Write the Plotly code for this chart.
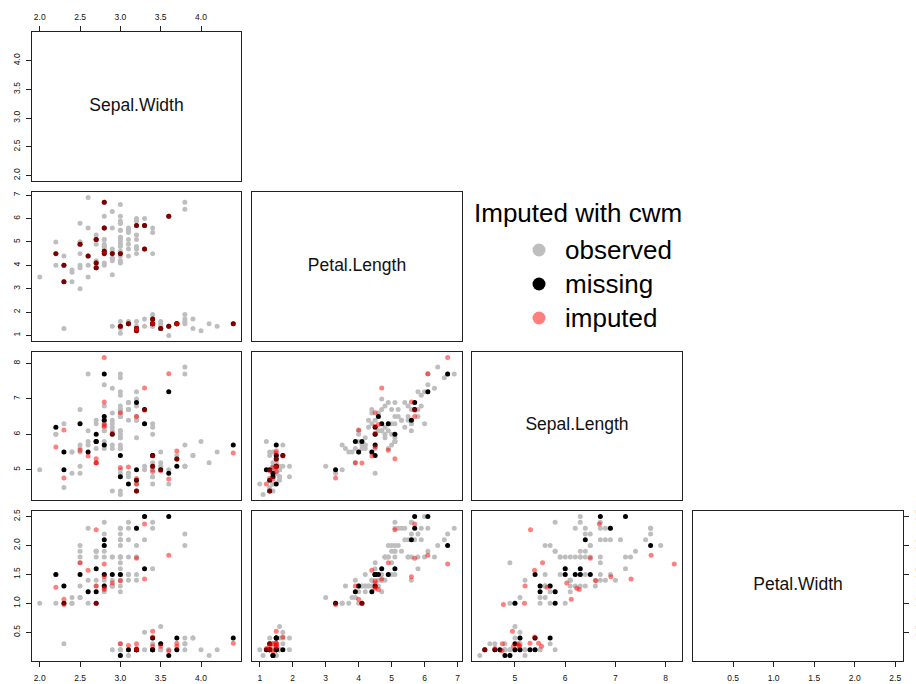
import plotly.graph_objects as go

# ---------------- data ----------------
var_names = ["Sepal.Width", "Petal.Length", "Sepal.Length", "Petal.Width"]

sepal_length = [
    5.1,4.9,4.7,4.6,5.0,5.4,4.6,5.0,4.4,4.9, 5.4,4.8,4.8,4.3,5.8,5.7,5.4,5.1,5.7,5.1,
    5.4,5.1,4.6,5.1,4.8,5.0,5.0,5.2,5.2,4.7, 4.8,5.4,5.2,5.5,4.9,5.0,5.5,4.9,4.4,5.1,
    5.0,4.5,4.4,5.0,5.1,4.8,5.1,4.6,5.3,5.0, 7.0,6.4,6.9,5.5,6.5,5.7,6.3,4.9,6.6,5.2,
    5.0,5.9,6.0,6.1,5.6,6.7,5.6,5.8,6.2,5.6, 5.9,6.1,6.3,6.1,6.4,6.6,6.8,6.7,6.0,5.7,
    5.5,5.5,5.8,6.0,5.4,6.0,6.7,6.3,5.6,5.5, 5.5,6.1,5.8,5.0,5.6,5.7,5.7,6.2,5.1,5.7,
    6.3,5.8,7.1,6.3,6.5,7.6,4.9,7.3,6.7,7.2, 6.5,6.4,6.8,5.7,5.8,6.4,6.5,7.7,7.7,6.0,
    6.9,5.6,7.7,6.3,6.7,7.2,6.2,6.1,6.4,7.2, 7.4,7.9,6.4,6.3,6.1,7.7,6.3,6.4,6.0,6.9,
    6.7,6.9,5.8,6.8,6.7,6.7,6.3,6.5,6.2,5.9]
sepal_width = [
    3.5,3.0,3.2,3.1,3.6,3.9,3.4,3.4,2.9,3.1, 3.7,3.4,3.0,3.0,4.0,4.4,3.9,3.5,3.8,3.8,
    3.4,3.7,3.6,3.3,3.4,3.0,3.4,3.5,3.4,3.2, 3.1,3.4,4.1,4.2,3.1,3.2,3.5,3.6,3.0,3.4,
    3.5,2.3,3.2,3.5,3.8,3.0,3.8,3.2,3.7,3.3, 3.2,3.2,3.1,2.3,2.8,2.8,3.3,2.4,2.9,2.7,
    2.0,3.0,2.2,2.9,2.9,3.1,3.0,2.7,2.2,2.5, 3.2,2.8,2.5,2.8,2.9,3.0,2.8,3.0,2.9,2.6,
    2.4,2.4,2.7,2.7,3.0,3.4,3.1,2.3,3.0,2.5, 2.6,3.0,2.6,2.3,2.7,3.0,2.9,2.9,2.5,2.8,
    3.3,2.7,3.0,2.9,3.0,3.0,2.5,2.9,2.5,3.6, 3.2,2.7,3.0,2.5,2.8,3.2,3.0,3.8,2.6,2.2,
    3.2,2.8,2.8,2.7,3.3,3.2,2.8,3.0,2.8,3.0, 2.8,3.8,2.8,2.8,2.6,3.0,3.4,3.1,3.0,3.1,
    3.1,3.1,2.7,3.2,3.3,3.0,2.5,3.0,3.4,3.0]
petal_length = [
    1.4,1.4,1.3,1.5,1.4,1.7,1.4,1.5,1.4,1.5, 1.5,1.6,1.4,1.1,1.2,1.5,1.3,1.4,1.7,1.5,
    1.7,1.5,1.0,1.7,1.9,1.6,1.6,1.5,1.4,1.6, 1.6,1.5,1.5,1.4,1.5,1.2,1.3,1.4,1.3,1.5,
    1.3,1.3,1.3,1.6,1.9,1.4,1.6,1.4,1.5,1.4, 4.7,4.5,4.9,4.0,4.6,4.5,4.7,3.3,4.6,3.9,
    3.5,4.2,4.0,4.7,3.6,4.4,4.5,4.1,4.5,3.9, 4.8,4.0,4.9,4.7,4.3,4.4,4.8,5.0,4.5,3.5,
    3.8,3.7,3.9,5.1,4.5,4.5,4.7,4.4,4.1,4.0, 4.4,4.6,4.0,3.3,4.2,4.2,4.2,4.3,3.0,4.1,
    6.0,5.1,5.9,5.6,5.8,6.6,4.5,6.3,5.8,6.1, 5.1,5.3,5.5,5.0,5.1,5.3,5.5,6.7,6.9,5.0,
    5.7,4.9,6.7,4.9,5.7,6.0,4.8,4.9,5.6,5.8, 6.1,6.4,5.6,5.1,5.6,6.1,5.6,5.5,4.8,5.4,
    5.6,5.1,5.1,5.9,5.7,5.2,5.0,5.2,5.4,5.1]
petal_width = [
    0.2,0.2,0.2,0.2,0.2,0.4,0.3,0.2,0.2,0.1, 0.2,0.2,0.1,0.1,0.2,0.4,0.4,0.3,0.3,0.3,
    0.2,0.4,0.2,0.5,0.2,0.2,0.4,0.2,0.2,0.2, 0.2,0.4,0.1,0.2,0.2,0.2,0.2,0.1,0.2,0.2,
    0.3,0.3,0.2,0.6,0.4,0.3,0.2,0.2,0.2,0.2, 1.4,1.5,1.5,1.3,1.5,1.3,1.6,1.0,1.3,1.4,
    1.0,1.5,1.0,1.4,1.3,1.4,1.5,1.0,1.5,1.1, 1.8,1.3,1.5,1.2,1.3,1.4,1.4,1.7,1.5,1.0,
    1.1,1.0,1.2,1.6,1.5,1.6,1.5,1.3,1.3,1.3, 1.2,1.4,1.2,1.0,1.3,1.2,1.3,1.3,1.1,1.3,
    2.5,1.9,2.1,1.8,2.2,2.1,1.7,1.8,1.8,2.5, 2.0,1.9,2.1,2.0,2.4,2.3,1.8,2.2,2.3,1.5,
    2.3,2.0,2.0,1.8,2.1,1.8,1.8,1.8,2.1,1.6, 1.9,2.0,2.2,1.5,1.4,2.3,2.4,1.8,1.8,2.1,
    2.4,2.3,1.9,2.3,2.5,2.3,1.9,2.0,2.3,1.8]

# rows (1-based) that had missing cells, and the values imputed with cwm
missing_rows = [3, 4, 13, 16, 21, 22, 32, 36, 38, 40, 41, 43, 49,
                54, 55, 56, 57, 68, 69, 73, 79, 83, 84, 85, 91, 94,
                110, 121, 123, 129, 145]
imputed_sepal_length = [4.75, 5.08, 5.06, 5.47, 5.39, 5.53, 4.95, 4.60, 4.74, 5.09, 4.97, 4.40, 5.30,
                        6.12, 6.28, 6.23, 7.31, 5.19, 5.64, 5.55, 6.03, 5.20, 5.31, 6.61, 5.39, 4.77,
                        7.71, 6.50, 8.17, 6.91, 6.68]
imputed_petal_width = [0.30, 0.27, 0.30, 0.31, 0.42, 0.26, 0.52, 0.22, 0.18, 0.26, 0.26, 0.20, 0.31,
                       1.07, 1.24, 1.26, 1.42, 1.00, 1.28, 1.70, 1.35, 1.30, 2.27, 1.39, 1.57, 0.98,
                       1.83, 1.78, 1.68, 1.46, 2.37]

tick_vals = {
    "Sepal.Width": [2.0, 2.5, 3.0, 3.5, 4.0],
    "Petal.Length": [1, 2, 3, 4, 5, 6, 7],
    "Sepal.Length": [5, 6, 7, 8],
    "Petal.Width": [0.5, 1.0, 1.5, 2.0, 2.5],
}
tick_text = {
    "Sepal.Width": ["2.0", "2.5", "3.0", "3.5", "4.0"],
    "Petal.Length": ["1", "2", "3", "4", "5", "6", "7"],
    "Sepal.Length": ["5", "6", "7", "8"],
    "Petal.Width": ["0.5", "1.0", "1.5", "2.0", "2.5"],
}
legend_title = "Imputed with cwm"
legend_labels = ["observed", "missing", "imputed"]

# ---------------- derived ----------------
miss_idx = [r - 1 for r in missing_rows]
miss_set = set(miss_idx)
obs_idx = [i for i in range(len(sepal_length)) if i not in miss_set]

true_vals = {"Sepal.Width": sepal_width, "Petal.Length": petal_length,
             "Sepal.Length": sepal_length, "Petal.Width": petal_width}
imp_vals = {k: list(v) for k, v in true_vals.items()}
for j, i in enumerate(miss_idx):
    imp_vals["Sepal.Length"][i] = imputed_sepal_length[j]
    imp_vals["Petal.Width"][i] = imputed_petal_width[j]

ranges = {}
for v in var_names:
    allv = true_vals[v] + imp_vals[v]
    lo, hi = min(allv), max(allv)
    pad = 0.04 * (hi - lo)
    ranges[v] = [lo - pad, hi + pad]

W, H = 916, 684
col_px = [(32, 241), (252, 462), (472, 682), (693, 903)]
row_px = [(32, 181), (192, 341), (352, 500), (511, 661)]

GRAY = "#bebebe"
BLACK = "#000000"
RED = "rgba(255,0,0,0.5)"
FONT = "Liberation Sans, Arial, Helvetica, sans-serif"
MS = 5

fig = go.Figure()
layout = {}
k = 0
for i in range(4):
    for j in range(i + 1):
        k += 1
        xv, yv = var_names[j], var_names[i]
        xa = "xaxis" if k == 1 else f"xaxis{k}"
        ya = "yaxis" if k == 1 else f"yaxis{k}"
        xr = "x" if k == 1 else f"x{k}"
        yr = "y" if k == 1 else f"y{k}"
        x0, x1 = col_px[j]
        y0, y1 = row_px[i]
        xax = dict(domain=[x0 / W, x1 / W], range=ranges[xv], anchor=yr,
                   showgrid=False, zeroline=False, showline=True, mirror=True,
                   linecolor="#222", linewidth=1, showticklabels=False, ticks="",
                   fixedrange=True)
        yax = dict(domain=[1 - y1 / H, 1 - y0 / H], range=ranges[yv], anchor=xr,
                   showgrid=False, zeroline=False, showline=True, mirror=True,
                   linecolor="#222", linewidth=1, showticklabels=False, ticks="",
                   fixedrange=True)
        tstyle = dict(ticks="outside", ticklen=5, tickwidth=1, tickcolor="#222",
                      showticklabels=True, tickfont=dict(family=FONT, size=8.5, color="#111"))
        if i == 3:
            xax.update(tstyle, tickvals=tick_vals[xv], ticktext=tick_text[xv],
                       side="bottom", ticklabelstandoff=4)
        if i == 0 and j == 0:
            xax.update(tstyle, tickvals=tick_vals[xv], ticktext=tick_text[xv],
                       side="top", ticklabelstandoff=3)
        if j == 0:
            yax.update(tstyle, tickvals=tick_vals[yv], ticktext=tick_text[yv],
                       side="left", tickangle=-90, ticklabelstandoff=3)
        if i == 3 and j == 3:
            yax.update(tstyle, tickvals=tick_vals[yv], ticktext=tick_text[yv],
                       side="right", tickangle=-90, ticklabelstandoff=3)
        layout[xa] = xax
        layout[ya] = yax

        if i == j:
            xm = sum(ranges[xv]) / 2
            ym = sum(ranges[yv]) / 2
            fig.add_trace(go.Scatter(
                x=[xm], y=[ym], mode="text", text=[var_names[i]],
                textposition="middle center",
                textfont=dict(family=FONT, size=17.5, color="#111"),
                xaxis=xr, yaxis=yr, showlegend=False, hoverinfo="skip", cliponaxis=False))
        else:
            fig.add_trace(go.Scatter(
                x=[true_vals[xv][n] for n in obs_idx], y=[true_vals[yv][n] for n in obs_idx],
                mode="markers", marker=dict(color=GRAY, size=MS, line=dict(width=0)),
                xaxis=xr, yaxis=yr, showlegend=False, hoverinfo="skip"))
            fig.add_trace(go.Scatter(
                x=[true_vals[xv][n] for n in miss_idx], y=[true_vals[yv][n] for n in miss_idx],
                mode="markers", marker=dict(color=BLACK, size=MS, line=dict(width=0)),
                xaxis=xr, yaxis=yr, showlegend=False, hoverinfo="skip"))
            fig.add_trace(go.Scatter(
                x=[imp_vals[xv][n] for n in miss_idx], y=[imp_vals[yv][n] for n in miss_idx],
                mode="markers", marker=dict(color=RED, size=MS, line=dict(width=0)),
                xaxis=xr, yaxis=yr, showlegend=False, hoverinfo="skip"))

# ---------------- legend (drawn manually, R style) ----------------
shapes = []
annotations = [dict(text=legend_title, xref="paper", yref="paper",
                    x=472 / W, y=1 - 213 / H, xanchor="left", yanchor="middle",
                    showarrow=False, font=dict(family=FONT, size=26, color="#000"))]
leg_colors = [GRAY, BLACK, "rgba(255,0,0,0.5)"]
leg_y = [250, 284, 318]
for lab, col, yy in zip(legend_labels, leg_colors, leg_y):
    r = 6.5
    cx = 539
    shapes.append(dict(type="circle", xref="paper", yref="paper",
                       x0=(cx - r) / W, x1=(cx + r) / W,
                       y0=1 - (yy + r) / H, y1=1 - (yy - r) / H,
                       fillcolor=col, line=dict(width=0)))
    annotations.append(dict(text=lab, xref="paper", yref="paper",
                            x=563 / W, y=1 - yy / H, xanchor="left", yanchor="middle",
                            showarrow=False, font=dict(family=FONT, size=26, color="#000")))

fig.update_layout(**layout)
fig.update_layout(width=W, height=H, margin=dict(l=0, r=0, t=0, b=0, autoexpand=False),
                  paper_bgcolor="white", plot_bgcolor="white",
                  annotations=annotations, shapes=shapes, showlegend=False)

fig.write_html("out.html", config={"displayModeBar": False},
               post_script="document.body.style.margin='0px';document.body.style.padding='0px';")
